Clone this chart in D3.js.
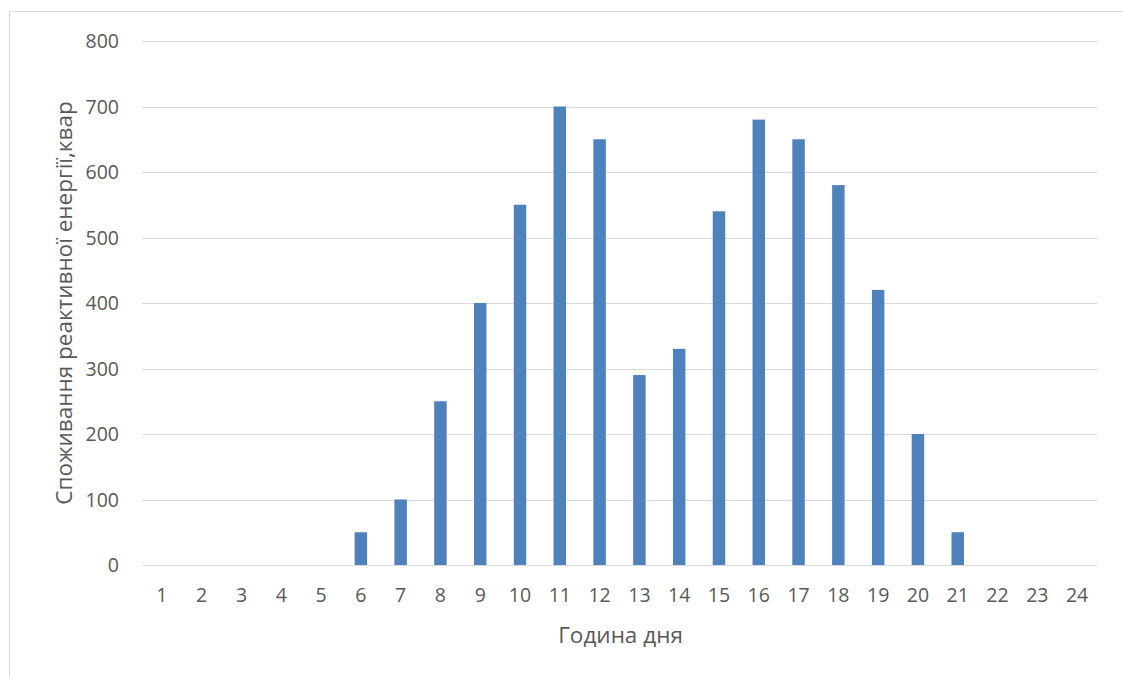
<!DOCTYPE html>
<html>
<head>
<meta charset="utf-8">
<script src="https://cdn.jsdelivr.net/npm/d3@7"></script>
<style>
  html, body { margin: 0; padding: 0; background: #fff; }
  svg { display: block; font-family: "Open Sans", "Noto Sans", sans-serif; }
</style>
</head>
<body>
<svg id="chart" width="1123" height="677"></svg>
<script>
// Hourly reactive energy consumption, kvar
const hours = d3.range(1, 25).map(String);
const consumption = [0, 0, 0, 0, 0, 50, 100, 250, 400, 550, 700, 650,
                     290, 330, 540, 680, 650, 580, 420, 200, 50, 0, 0, 0];
const yTicks = [0, 100, 200, 300, 400, 500, 600, 700, 800];
const xTitle = "Година дня";
const yTitle = "Споживання реактивної енергії,квар";

const svg = d3.select("#chart");
const W = 1123, H = 677;
const plot = { left: 142, right: 1097, top: 41, bottom: 565 };
const tickSize = 19.5, titleSize = 22.5;

// chart frame
svg.append("path")
  .attr("d", `M9.5,${H + 1} V11.5 H${W + 1}`)
  .attr("fill", "none")
  .attr("stroke", "#d9d9d9")
  .attr("stroke-width", 1);

const x = d3.scaleBand().domain(hours).range([plot.left, plot.right]).paddingInner(0).paddingOuter(0);
const y = d3.scaleLinear().domain([0, 800]).range([plot.bottom, plot.top]);

// gridlines
svg.append("g")
  .selectAll("line")
  .data(yTicks)
  .join("line")
  .attr("x1", plot.left).attr("x2", plot.right)
  .attr("y1", d => Math.round(y(d)) + 0.5).attr("y2", d => Math.round(y(d)) + 0.5)
  .attr("stroke", "#d9d9d9").attr("stroke-width", 1);

// y tick labels
svg.append("g")
  .selectAll("text")
  .data(yTicks)
  .join("text")
  .attr("x", 119)
  .attr("y", d => y(d))
  .attr("dy", "0.37em")
  .attr("text-anchor", "end")
  .attr("font-size", tickSize)
  .attr("fill", "#595959")
  .text(d => d);

// bars
const barW = x.bandwidth() / 3.19;
svg.append("g")
  .selectAll("rect")
  .data(consumption.map((v, i) => ({ h: hours[i], v })))
  .join("rect")
  .attr("x", d => x(d.h) + (x.bandwidth() - barW) / 2)
  .attr("width", barW)
  .attr("y", d => y(d.v))
  .attr("height", d => y(0) - y(d.v))
  .attr("fill", "#4f81bd");

// x tick labels
svg.append("g")
  .selectAll("text")
  .data(hours)
  .join("text")
  .attr("x", d => x(d) + x.bandwidth() / 2)
  .attr("y", 595)
  .attr("dy", "0.36em")
  .attr("text-anchor", "middle")
  .attr("font-size", tickSize)
  .attr("fill", "#595959")
  .text(d => d);

// axis titles
svg.append("text")
  .attr("x", (plot.left + plot.right) / 2 + 1)
  .attr("y", 635)
  .attr("dy", "0.35em")
  .attr("text-anchor", "middle")
  .attr("font-size", titleSize)
  .attr("fill", "#595959")
  .text(xTitle);

svg.append("text")
  .attr("transform", `translate(64, ${(plot.top + plot.bottom) / 2}) rotate(-90)`)
  .attr("dy", "0.35em")
  .attr("text-anchor", "middle")
  .attr("font-size", titleSize)
  .attr("fill", "#595959")
  .text(yTitle);
</script>
</body>
</html>
